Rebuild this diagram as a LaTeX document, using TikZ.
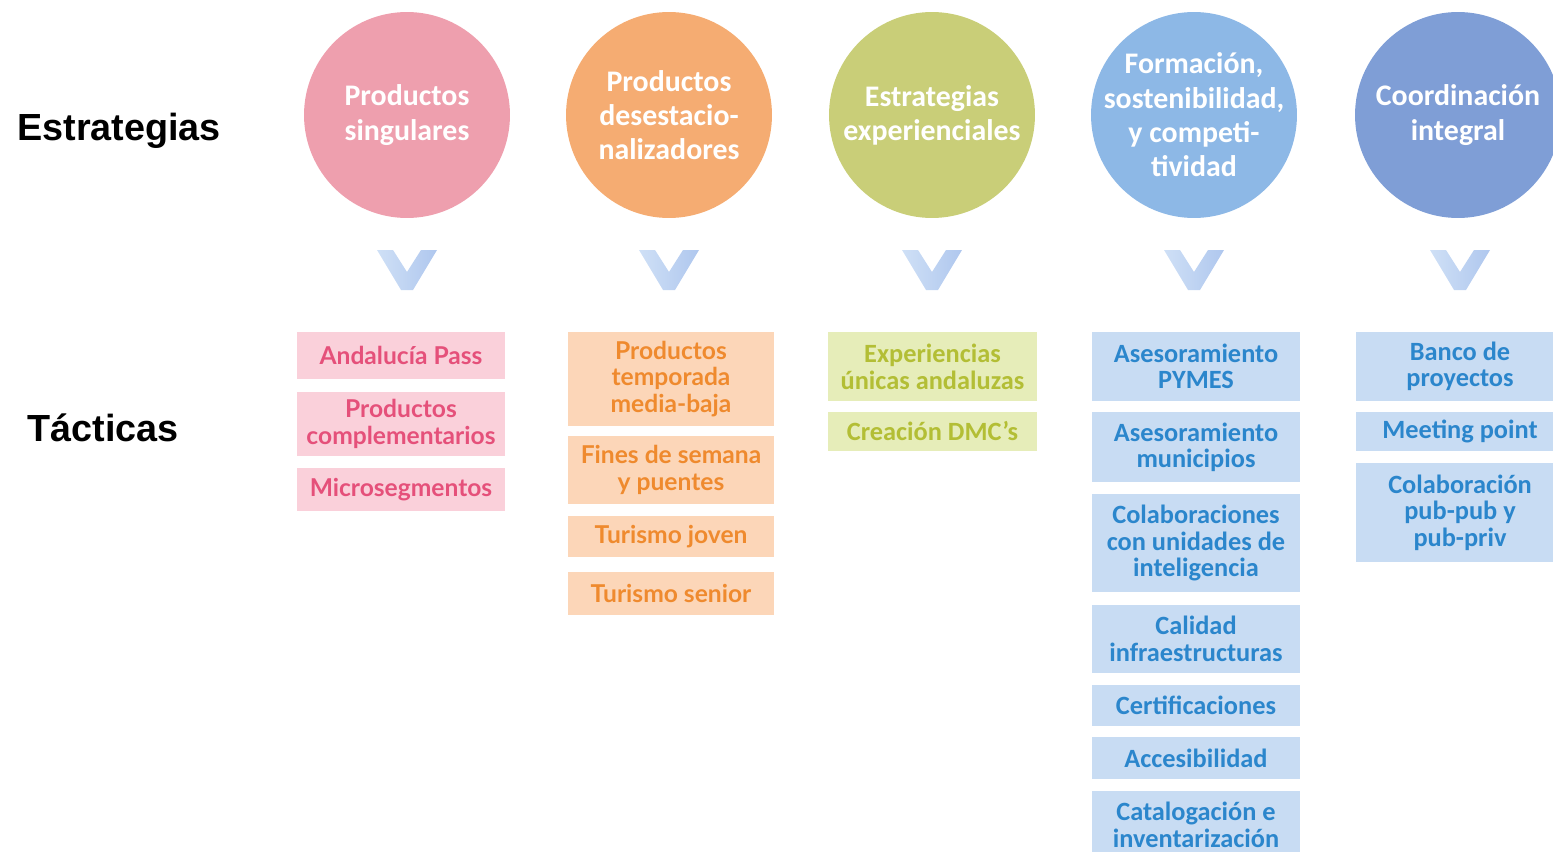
\documentclass[tikz,border=0pt]{standalone}
\usepackage{fontspec}
\setmainfont{Carlito}
\newfontfamily\latofont{Lato}
\newfontfamily\headfont{Liberation Sans}
\begin{document}
\begin{tikzpicture}[x=0.02cm,y=-0.02cm,
  strat/.style={circle,minimum size=4.12cm,inner sep=0pt,text=white,align=center,
    font=\fontsize{17}{19.5}\selectfont\bfseries},
  tact/.style={rectangle,inner sep=2pt,align=center,draw=white,line width=0.6pt},
  lbl/.style={anchor=base west,inner sep=0pt,font=\headfont\fontsize{21.5}{25}\selectfont\bfseries},
  pinkbox/.style={tact,fill=pinkB,text=pinkT,minimum width=4.2cm,font=\latofont\fontsize{14}{15.3}\selectfont\bfseries},
  orangebox/.style={tact,fill=orangeB,text=orangeT,minimum width=4.16cm,font=\latofont\fontsize{14}{15.3}\selectfont\bfseries},
  greenbox/.style={tact,fill=greenB,text=greenT,minimum width=4.22cm,font=\fontsize{15}{15.2}\selectfont\bfseries},
  bluebox/.style={tact,fill=blueB,text=blueT,minimum width=4.2cm,font=\fontsize{15}{15}\selectfont\bfseries},
  chev/.pic={\shade[left color=chevL,right color=chevR]
    (-30,-19)--(-14,-19)--(0,3)--(14,-19)--(30,-19)--(6,21)--(-6,21)--cycle;}
]
\definecolor{pinkC}{HTML}{EE9FAE}
\definecolor{pinkB}{HTML}{FAD0DA}
\definecolor{pinkT}{HTML}{E5507A}
\definecolor{orangeC}{HTML}{F5AC72}
\definecolor{orangeB}{HTML}{FCD6B8}
\definecolor{orangeT}{HTML}{EF8A2E}
\definecolor{greenC}{HTML}{C9CE78}
\definecolor{greenB}{HTML}{E6EDB9}
\definecolor{greenT}{HTML}{B3BE35}
\definecolor{blueC}{HTML}{8DB8E6}
\definecolor{navyC}{HTML}{7F9ED6}
\definecolor{blueB}{HTML}{C8DCF3}
\definecolor{blueT}{HTML}{2B86CC}
\definecolor{chevL}{HTML}{CFE0F6}
\definecolor{chevR}{HTML}{AFC7EE}

\useasboundingbox (0,0) rectangle (1553,852);
\clip (0,0) rectangle (1553,852);

% row labels
\node[lbl] (lEst) at (17,140) {Estrategias};
\node[lbl] (lTac) at (27,441) {Tácticas};

% strategies
\node[strat,fill=pinkC]   (s1) at (407,115)  {Productos\\singulares};
\node[strat,fill=orangeC] (s2) at (669,115)  {Productos\\desestacio-\\nalizadores};
\node[strat,fill=greenC]  (s3) at (932,115)  {Estrategias\\experienciales};
\node[strat,fill=blueC,inner sep=-12pt] (s4) at (1194,115) {Formación,\\sostenibilidad,\\y competi-\\tividad};
\node[strat,fill=navyC]   (s5) at (1458,115) {Coordinación\\integral};

% chevrons between each strategy and its tactics
\foreach \i/\cx in {1/407,2/669,3/932,4/1194,5/1460}{
  \coordinate (c\i) at (\cx,269);
  \pic at (c\i) {chev};
}

% tactics: column 1
\node[pinkbox,minimum height=0.98cm] (t11) at (401,355.5) {Andalucía Pass};
\node[pinkbox,minimum height=1.32cm] (t12) at (401,424)   {Productos\\complementarios};
\node[pinkbox,minimum height=0.9cm]  (t13) at (401,489.5) {Microsegmentos};

% column 2
\node[orangebox,minimum height=1.92cm] (t21) at (671,379)   {Productos\\temporada\\media-baja};
\node[orangebox,minimum height=1.4cm]  (t22) at (671,470)   {Fines de semana\\y puentes};
\node[orangebox,minimum height=0.86cm] (t23) at (671,536.5) {Turismo joven};
\node[orangebox,minimum height=0.9cm]  (t24) at (671,593.5) {Turismo senior};

% column 3
\node[greenbox,minimum height=1.42cm] (t31) at (932.5,366.5) {Experiencias\\únicas andaluzas};
\node[greenbox,minimum height=0.82cm] (t32) at (932.5,431.5) {Creación DMC's};

% column 4
\node[bluebox,minimum height=1.42cm] (t41) at (1196,366.5) {Asesoramiento\\PYMES};
\node[bluebox,minimum height=1.44cm] (t42) at (1196,447)   {Asesoramiento\\municipios};
\node[bluebox,minimum height=2.0cm]  (t43) at (1196,543)   {Colaboraciones\\con unidades de\\inteligencia};
\node[bluebox,minimum height=1.4cm]  (t44) at (1196,639)   {Calidad\\infraestructuras};
\node[bluebox,minimum height=0.86cm] (t45) at (1196,705.5) {Certificaciones};
\node[bluebox,minimum height=0.88cm] (t46) at (1196,758)   {Accesibilidad};
\node[bluebox,minimum height=1.4cm]  (t47) at (1196,825)   {Catalogación e\\inventarización};

% column 5
\node[bluebox,minimum height=1.42cm] (t51) at (1460,366.5) {Banco de\\proyectos};
\node[bluebox,minimum height=0.82cm] (t52) at (1460,431.5) {Meeting point};
\node[bluebox,minimum height=2.02cm] (t53) at (1460,512.5) {Colaboración\\pub-pub y\\pub-priv};
\end{tikzpicture}
\end{document}
